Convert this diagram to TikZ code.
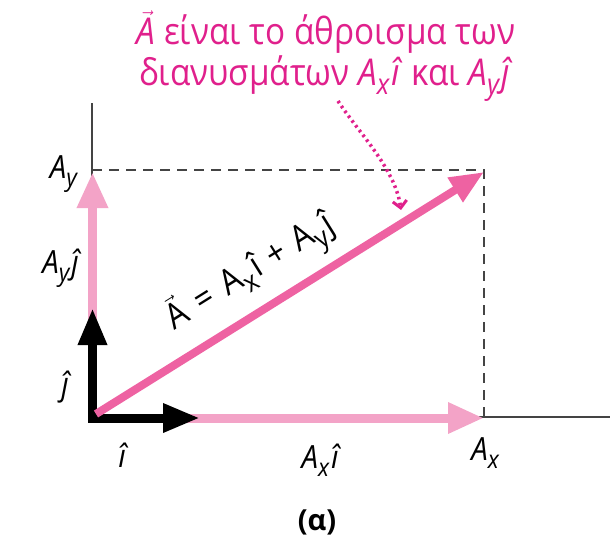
\documentclass[tikz,border=0pt]{standalone}
\usepackage{fontspec}
\setmainfont{Open Sans}
\newfontfamily\notefont[FakeStretch=0.9]{Open Sans}
\newfontfamily\lblfont[FakeStretch=0.92]{Open Sans}
\usetikzlibrary{arrows.meta}
\definecolor{mag}{HTML}{E0208C}
\definecolor{vecpink}{HTML}{EE62A2}
\definecolor{lightpink}{HTML}{F3A3C7}
\definecolor{axisgray}{HTML}{444444}
\newcommand\sbs[1]{\raisebox{-0.25em}{\scalebox{0.78}{#1}}\kern0.06em}
\begin{document}
\begin{tikzpicture}[x=1pt,y=-1pt,
  axis/.style={draw=axisgray,line width=1.6pt},
  guide/.style={draw=axisgray,line width=1.6pt,dash pattern=on 10pt off 7pt},
  comp/.style={draw=lightpink,line width=9pt,-{Triangle[length=36pt,width=29pt]}},
  unitvec/.style={draw=black,line width=9pt,line join=miter,{Triangle[length=37pt,width=27pt]}-{Triangle[length=37pt,width=27pt]}},
  sumvec/.style={draw=vecpink,line width=8pt,-{Triangle[length=34pt,width=27pt]}},
  lbl/.style={font=\lblfont\fontsize{32}{34}\selectfont\itshape,inner sep=0pt},
  note/.style={font=\notefont\fontsize{37}{41}\selectfont,text=mag,align=center,inner sep=0pt},
  pointer/.style={draw=mag,line width=3.5pt,dash pattern=on 2.5pt off 3.5pt,-{Straight Barb[length=7pt,width=14pt,line width=3pt]}}
]
\useasboundingbox (0,0) rectangle (615,551);
% coordinates
\coordinate (top) at (92,103);
\coordinate (O) at (92.5,418);
\coordinate (Oax) at (92,417);
\coordinate (Y) at (92.5,172);
\coordinate (Yd) at (92,170);
\coordinate (X) at (484,418);
\coordinate (Xax) at (484,417);
\coordinate (R) at (484,170);
\coordinate (Rt) at (484,172);
\coordinate (end) at (610,417);
\coordinate (J) at (92.5,308);
\coordinate (I) at (200,418);
\coordinate (S) at (96,414);
% axes
\draw[axis] (top) -- (Oax) -- (end);
% dashed guides
\draw[guide] (Yd) -- (R) -- (Xax);
% component vectors
\draw[comp] (O) -- (Y);
\draw[comp] (O) -- (X);
% unit vectors
\draw[unitvec] (J) -- (O) -- (I);
% sum vector
\draw[sumvec] (S) -- (Rt);
% labels
\node[lbl,anchor=base east] (ay) at (79,178) {A\sbs{y}};
\node[lbl,anchor=base east] (ayj) at (79,273) {A\sbs{y}ĵ};
\node[lbl,anchor=base] (jl) at (65,395) {ĵ};
\node[lbl,anchor=base] (il) at (122,467) {î};
\node[lbl,anchor=base] (axi) at (320,468) {A\sbs{x}î};
\node[lbl,anchor=base] (ax) at (486,460) {A\sbs{x}};
\node[font=\fontsize{29}{30}\selectfont\bfseries,inner sep=0pt] (cap) at (317,522) {(α)};
\node[font=\lblfont\fontsize{35}{36}\selectfont,inner sep=0pt,rotate=32] (eq) at (251,273)
  {$\vec{\textup{A}}$\kern0.35em=\kern0.35em A\sbs{x}î\kern0.3em+\kern0.3em A\sbs{y}ĵ};
\node[note] (txt) at (326,56) {$\vec{\textit{A}}$ είναι το άθροισμα των\\
  διανυσμάτων \textit{A\sbs{x}î} και \textit{A\sbs{y}ĵ}};
% pointer
\coordinate (ps) at (338,101);
\coordinate (pe) at (401,210);
\draw[pointer] (ps) .. controls (358,132) and (395,168) .. (pe);
\end{tikzpicture}
\end{document}
